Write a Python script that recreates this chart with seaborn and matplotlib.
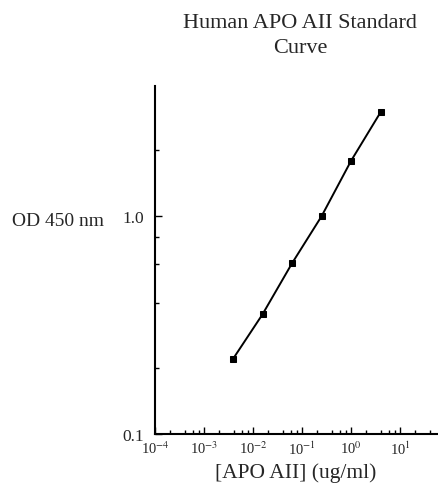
import matplotlib
matplotlib.use("Agg")
import matplotlib.pyplot as plt
import seaborn as sns
import pandas as pd
from matplotlib.ticker import FixedLocator, NullFormatter

concentration = [0.0039, 0.0156, 0.0625, 0.25, 1.0, 4.0]
od450 = [0.221, 0.354, 0.607, 0.997, 1.79, 2.99]
x_major = [1e-4, 1e-3, 1e-2, 1e-1, 1e0, 1e1]
x_labels = ["10$^{-4}$", "10$^{-3}$", "10$^{-2}$", "10$^{-1}$", "10$^{0}$", "10$^{1}$"]
y_major = [0.1, 1.0]
y_labels = ["0.1", "1.0"]
y_minor = [0.2, 0.4, 0.6, 0.8, 2, 4]

sns.set_theme(style="white")
plt.rcParams['font.family'] = ['Liberation Serif', 'DejaVu Serif']
plt.rcParams['mathtext.fontset'] = 'stix'

df = pd.DataFrame({"conc": concentration, "od": od450})

fig = plt.figure(figsize=(4.38, 4.89), dpi=100)
ax = fig.add_axes([0.354, 0.1104, 0.644, 0.712])
sns.lineplot(data=df, x="conc", y="od", ax=ax, color="black", linewidth=1.4,
             marker="s", markersize=4, markeredgecolor="black", markerfacecolor="black")
ax.set_xscale("log")
ax.set_yscale("log")
ax.set_xlim(1e-4, 57)
ax.set_ylim(0.1, 3.95)

ax.xaxis.set_major_locator(FixedLocator(x_major))
ax.set_xticklabels(x_labels, fontsize=10.5)
x_minor = [m * d for d in [1e-4, 1e-3, 1e-2, 1e-1, 1, 10] for m in [2, 4, 6, 8] if m * d < 57]
ax.xaxis.set_minor_locator(FixedLocator(x_minor))
ax.xaxis.set_minor_formatter(NullFormatter())
ax.yaxis.set_major_locator(FixedLocator(y_major))
ax.set_yticklabels(y_labels, fontsize=12.5)
ax.yaxis.set_minor_locator(FixedLocator(y_minor))
ax.yaxis.set_minor_formatter(NullFormatter())

ax.tick_params(axis="both", which="major", direction="in", length=5, width=1, color="black")
ax.tick_params(axis="y", which="major", pad=8)
ax.tick_params(axis="x", which="major", pad=4)
ax.tick_params(axis="both", which="minor", direction="in", length=3, width=1, color="black")
ax.tick_params(left=True, bottom=True, which="both")

for s in ["top", "right"]:
    ax.spines[s].set_visible(False)
for s in ["left", "bottom"]:
    ax.spines[s].set_color("black")
    ax.spines[s].set_linewidth(1.5)

ax.set_xlabel("[APO AII] (ug/ml)", fontsize=15.5, labelpad=4)
ax.set_ylabel("")
fig.text(0.027, 1 - 222 / 489, "OD 450 nm", fontsize=14, ha="left", va="center")
fig.text(300 / 438, 1 - 23 / 489, "Human APO AII Standard", fontsize=16, ha="center", va="center")
fig.text(300 / 438, 1 - 49 / 489, "Curve", fontsize=16, ha="center", va="center")

fig.savefig("out.png", dpi=100)
